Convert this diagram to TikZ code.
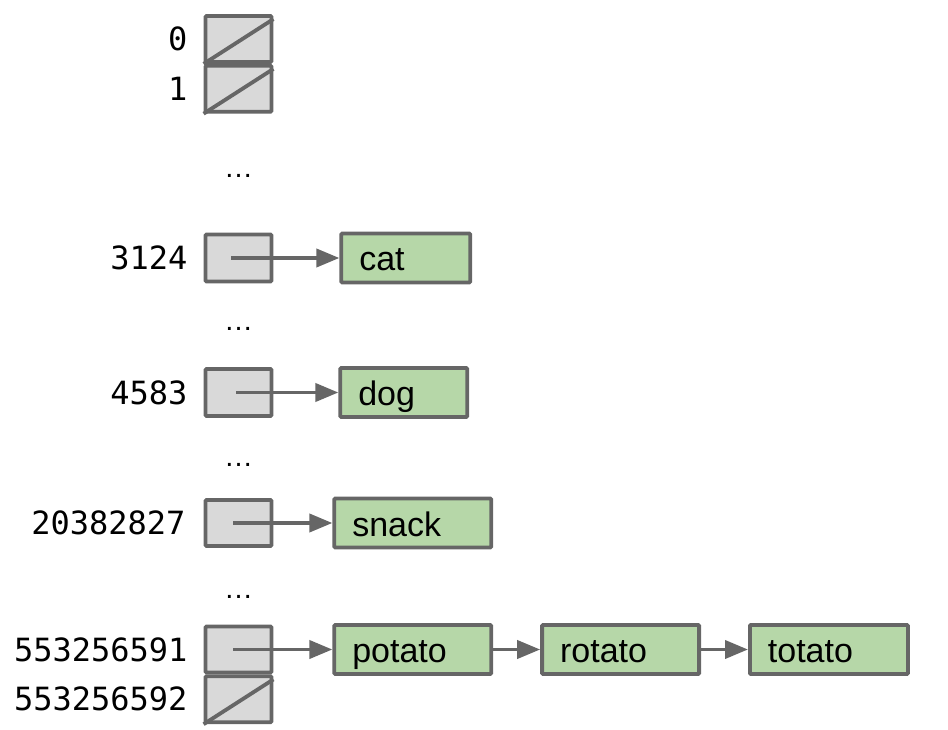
\documentclass[tikz,border=0pt]{standalone}
\usepackage{fontspec}
\setmainfont{Liberation Sans}
\newfontfamily\idxfont{DejaVu Sans Mono}
\usetikzlibrary{positioning,arrows.meta}

\definecolor{slotgray}{HTML}{D9D9D9}
\definecolor{edgegray}{HTML}{666666}
\definecolor{valgreen}{HTML}{B6D7A8}

\tikzset{
    slot/.style={draw=edgegray, fill=slotgray, line width=3.8pt, minimum width=66pt,
                 minimum height=46pt, inner sep=0pt, rounded corners=1pt},
    val/.style={draw=edgegray, fill=valgreen, line width=3.8pt, minimum height=49pt,
                inner xsep=18pt, inner ysep=0pt, align=left, rounded corners=1pt,
                text height=27pt, text depth=1pt,
                font=\fontsize{34}{40}\selectfont},
    idx/.style={inner sep=0pt, font=\idxfont\fontsize{32}{38}\selectfont},
    ptr/.style={draw=edgegray, line width=3.8pt, -{Triangle[length=23pt,width=18pt]}},
    dots/.style={inner sep=0pt, anchor=base, font=\fontsize{29}{32}\selectfont},
    nullslash/.style={draw=edgegray, line width=3.8pt},
}

\begin{document}
\begin{tikzpicture}[x=1pt, y=-1pt]
    \useasboundingbox (0,0) rectangle (948,730);

    % buckets
    \node[slot] (s0) at (238.5,39) {};
    \node[slot, below=0pt of s0] (s1) {};
    \node[slot, minimum height=47pt] (s3124) at (238.5,258) {};
    \node[slot, minimum height=47pt] (s4583) at (238.5,392.5) {};
    \node[slot] (s20382827) at (238.5,523) {};
    \node[slot] (s553256591) at (238.5,649.5) {};
    \node[slot, below=0pt of s553256591] (s553256592) {};

    % indices
    \node[idx, left=16pt of s0] (l0) {0};
    \node[idx, left=16pt of s1] (l1) {1};
    \node[idx, left=16pt of s3124] (l3124) {3124};
    \node[idx, left=16pt of s4583] (l4583) {4583};
    \node[idx, left=18pt of s20382827] (l20382827) {20382827};
    \node[idx, left=16pt of s553256591] (l553256591) {553256591};
    \node[idx, left=16pt of s553256592] (l553256592) {553256592};

    % empty buckets
    \draw[nullslash] (s0.south west) -- ([yshift=-5pt]s0.north east);
    \draw[nullslash] (s1.south west) -- ([yshift=-5pt]s1.north east);
    \draw[nullslash] (s553256592.south west) -- ([yshift=-5pt]s553256592.north east);

    % skipped rows
    \node[dots] (d1) at (238.5,178) {…};
    \node[dots] (d2) at (238.5,330) {…};
    \node[dots] (d3) at (238.5,466) {…};
    \node[dots] (d4) at (238.5,598) {…};

    % chains
    \node[val, text width=93pt, right=66pt of s3124] (cat) {cat};
    \node[val, text width=91pt, right=65pt of s4583] (dog) {dog};
    \node[val, text width=121pt, right=59pt of s20382827] (snack) {snack};
    \node[val, text width=121pt, right=59pt of s553256591] (potato) {potato};
    \node[val, text width=121pt, right=47pt of potato] (rotato) {rotato};
    \node[val, text width=122pt, right=47pt of rotato] (totato) {totato};

    \draw[ptr] ([xshift=-7.5pt]s3124.center) -- (cat.west);
    \draw[ptr] ([xshift=-2.5pt]s4583.center) -- (dog.west);
    \draw[ptr] ([xshift=-5.5pt]s20382827.center) -- (snack.west);
    \draw[ptr] ([xshift=-5.5pt]s553256591.center) -- (potato.west);
    \draw[ptr] (potato.east) -- (rotato.west);
    \draw[ptr] (rotato.east) -- (totato.west);
\end{tikzpicture}
\end{document}
